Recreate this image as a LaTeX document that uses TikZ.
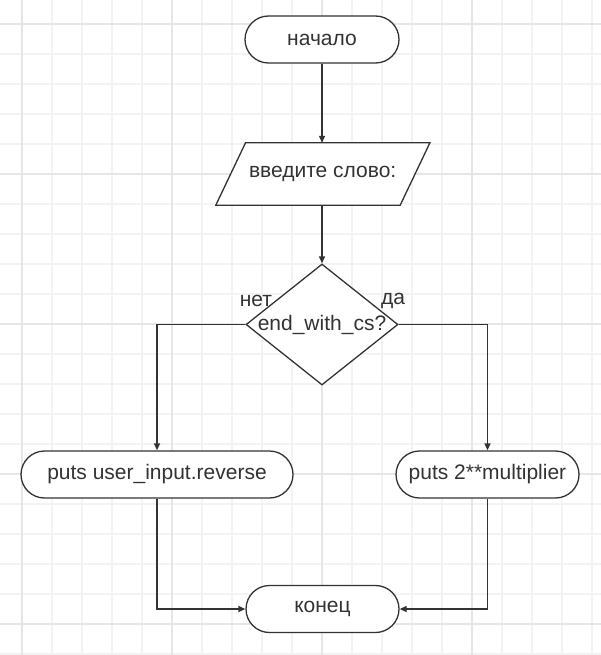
\documentclass[tikz,border=0pt]{standalone}
\usepackage{fontspec}
\setmainfont{Liberation Sans}
\usetikzlibrary{shapes.geometric,arrows.meta}
\definecolor{ink}{HTML}{333333}
\definecolor{gridminor}{HTML}{F3F3F3}
\definecolor{gridmajor}{HTML}{E6E6E6}
\begin{document}
\begin{tikzpicture}[x=1pt,y=-1pt,
  font=\fontsize{21}{25}\selectfont,
  shapebase/.style={draw=ink, line width=1.3pt, inner sep=0pt, text=ink, fill=white},
  term/.style={shapebase, rectangle, rounded corners=23.5pt, minimum height=47pt},
  decision/.style={shapebase, diamond, minimum width=152pt, minimum height=121pt},
  lbl/.style={text=ink, inner sep=0pt},
  outline/.style={draw=ink, line width=1.3pt, fill=white},
  conn/.style={draw=ink, line width=1.3pt, -{Triangle[length=7pt,width=6pt]}}]
\useasboundingbox (0,0) rectangle (601,655);
\fill[white] (0,0) rectangle (601,655);
\foreach \x in {22,52,...,592} \draw[gridminor, line width=1.1pt] (\x,0) -- (\x,655);
\foreach \y in {24,54,...,654} \draw[gridminor, line width=1.1pt] (0,\y) -- (601,\y);
\foreach \x in {22,172,322,472} \draw[gridmajor, line width=1.1pt] (\x,0) -- (\x,655);
\foreach \y in {24,174,324,474,624} \draw[gridmajor, line width=1.1pt] (0,\y) -- (601,\y);

\node[term, minimum width=154pt] (start) at (322,39.5) {начало};
\node[lbl, minimum width=184pt, minimum height=62pt] (inp) at (322.7,174) {};
\draw[outline] ([xshift=15pt]inp.north west) -- ([xshift=15pt]inp.north east)
  -- ([xshift=-14.7pt]inp.south east) -- ([xshift=-14.7pt]inp.south west) -- cycle;
\node[lbl] (inptext) at (inp.center) {введите слово:};
\node[decision] (dec) at (322,324.5) {};
\node[lbl] (dectext) at (dec.center) {end\_with\_cs?};
\node[term, minimum width=272pt] (rev) at (157,474.5) {puts user\_input.reverse};
\node[term, minimum width=183pt] (mul) at (487.5,474.5) {puts 2**multiplier};
\node[term, minimum width=153pt] (fin) at (322.5,609) {конец};
\node[lbl] (no) at (256,301) {нет};
\node[lbl] (yes) at (393,301) {да};

\draw[conn] (start.south) -- (start.south |- inp.north);
\draw[conn] (inp.south -| dec.north) -- (dec.north);
\draw[conn] (dec.west) -| (rev.north);
\draw[conn] (dec.east) -| (mul.north);
\draw[conn] (rev.south) |- (fin.west);
\draw[conn] (mul.south) |- (fin.east);
\end{tikzpicture}
\end{document}
